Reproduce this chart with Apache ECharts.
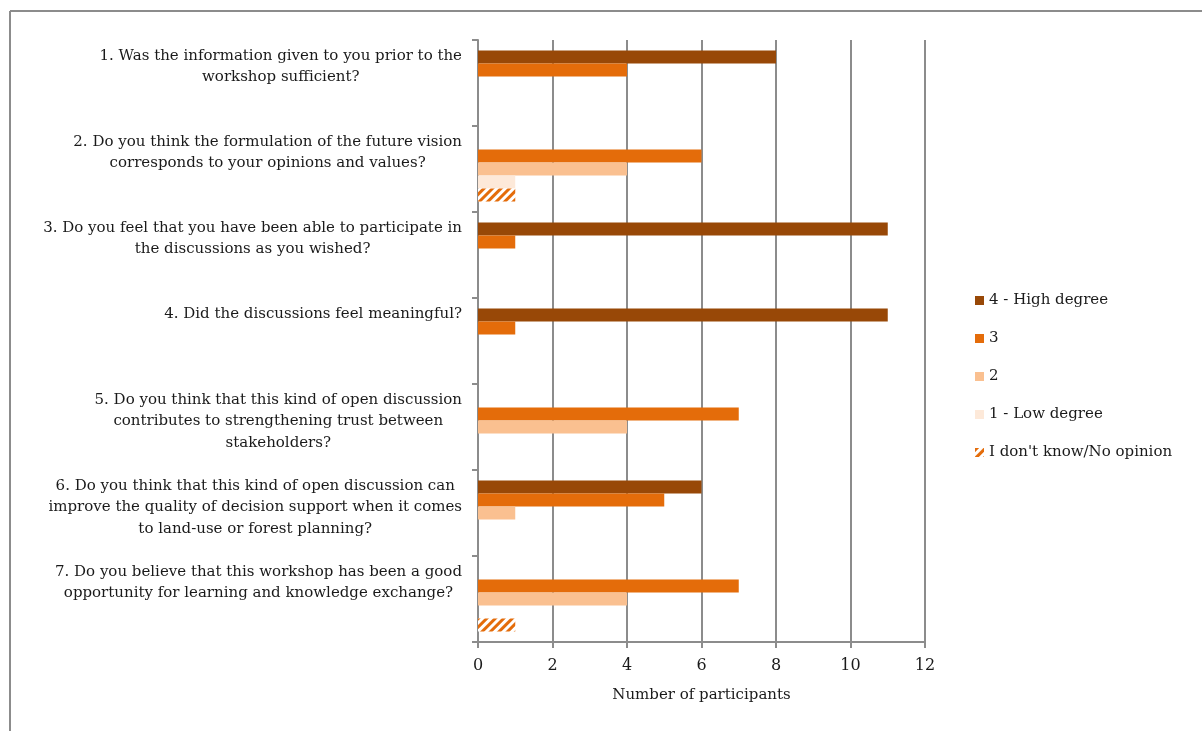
<!DOCTYPE html>
<html>
<head>
<meta charset="utf-8">
<script src="https://cdn.jsdelivr.net/npm/echarts@6/dist/echarts.min.js"></script>
<style>
  html, body { margin: 0; padding: 0; background: #fff; }
  #container { width: 1202px; height: 731px; }
</style>
</head>
<body>
<div id="container"></div>
<script>
var questions = [
  ['1. Was the information given to you prior to the', 'workshop sufficient?'],
  ['2. Do you think the formulation of the future vision', 'corresponds to your opinions and values?'],
  ['3. Do you feel that you have been able to participate in', 'the discussions as you wished?'],
  ['4. Did the discussions feel meaningful?'],
  ['5. Do you think that this kind of open discussion', 'contributes to strengthening trust between', 'stakeholders?'],
  ['6. Do you think that this kind of open discussion can', 'improve the quality of decision support when it comes', 'to land-use or forest planning?'],
  ['7. Do you believe that this workshop has been a good', 'opportunity for learning and knowledge exchange?']
];
var seriesNames = ['4 - High degree', '3', '2', '1 - Low degree', "I don't know/No opinion"];
var highDegree = [8, 0, 11, 11, 0, 6, 0];
var degree3 = [4, 6, 1, 1, 7, 5, 7];
var degree2 = [0, 4, 0, 0, 4, 1, 4];
var lowDegree = [0, 1, 0, 0, 0, 0, 0];
var noOpinion = [0, 1, 0, 0, 0, 0, 1];
var xTicks = [0, 2, 4, 6, 8, 10, 12];

var FONT = 'DejaVu Serif';
var dom = document.getElementById('container');
var myChart = echarts.init(dom);

var catKeys = questions.map(function(q, i) { return 'q' + i; });
// second axis: labels sit on the band edges so they can hang from the top of each band
var labelKeys = catKeys.concat(['end']);

function bar(name, data, color, extra) {
  var s = {
    name: name,
    type: 'bar',
    yAxisIndex: 0,
    data: data,
    barGap: '0%',
    barCategoryGap: '24.4%',
    itemStyle: { color: color },
    emphasis: { disabled: true }
  };
  if (extra) s.itemStyle = extra;
  return s;
}

var option = {
  animation: false,
  textStyle: { fontFamily: FONT },
  graphic: [
    { type: 'line', shape: { x1: 10, y1: 11, x2: 1202, y2: 11 }, style: { stroke: '#8c8c8c', lineWidth: 2 } },
    { type: 'line', shape: { x1: 10, y1: 11, x2: 10, y2: 731 }, style: { stroke: '#8c8c8c', lineWidth: 2 } }
  ],
  legend: {
    orient: 'vertical',
    left: 970,
    top: 288,
    itemWidth: 9,
    itemHeight: 9,
    itemGap: 23,
    icon: 'rect',
    textStyle: { fontFamily: FONT, fontSize: 15, color: '#1a1a1a' },
    data: seriesNames
  },
  grid: { left: 478, right: 277, top: 40, bottom: 89, containLabel: false },
  xAxis: {
    type: 'value',
    min: 0,
    max: 12,
    interval: 2,
    name: 'Number of participants',
    nameLocation: 'middle',
    nameGap: 46,
    nameTextStyle: { fontFamily: FONT, fontSize: 15, color: '#1a1a1a' },
    axisLine: { show: true, lineStyle: { color: '#8c8c8c', width: 2 } },
    axisTick: { show: true, length: 6, lineStyle: { color: '#8c8c8c', width: 2 } },
    axisLabel: { fontFamily: FONT, fontSize: 16, color: '#1a1a1a', margin: 16,
      formatter: function(v) { return xTicks.indexOf(v) >= 0 ? String(v) : ''; } },
    splitLine: { show: true, lineStyle: { color: '#8c8c8c', width: 2 } }
  },
  yAxis: [
    {
      type: 'category',
      inverse: true,
      data: catKeys,
      axisLine: { show: true, lineStyle: { color: '#8c8c8c', width: 2 } },
      axisTick: { show: true, length: 6, lineStyle: { color: '#8c8c8c', width: 2 } },
      axisLabel: { show: false },
      splitLine: { show: false }
    },
    {
      type: 'category',
      inverse: true,
      boundaryGap: false,
      data: labelKeys,
      position: 'left',
      axisLine: { show: false },
      axisTick: { show: false },
      splitLine: { show: false },
      axisLabel: {
        margin: 16,
        verticalAlign: 'top',
        align: 'right',
        padding: [5, 0, 0, 0],
        formatter: function(v) {
          var i = catKeys.indexOf(v);
          if (i < 0) return '';
          return questions[i].map(function(line) { return '{c|' + line + '}'; }).join('\n');
        },
        rich: {
          c: { align: 'center', fontFamily: FONT, fontSize: 15, lineHeight: 21.5, color: '#1a1a1a' }
        }
      }
    }
  ],
  series: [
    bar(seriesNames[0], highDegree, '#984807'),
    bar(seriesNames[1], degree3, '#E46C0A'),
    bar(seriesNames[2], degree2, '#FAC090'),
    bar(seriesNames[3], lowDegree, '#FDE9D9'),
    bar(seriesNames[4], noOpinion, '#ffffff', {
      color: '#ffffff',
      decal: {
        symbol: 'rect',
        symbolSize: 1,
        color: '#E46C0A',
        dashArrayX: [1, 0],
        dashArrayY: [3, 3],
        rotation: -Math.PI / 4
      }
    })
  ]
};

myChart.setOption(option);
</script>
</body>
</html>
